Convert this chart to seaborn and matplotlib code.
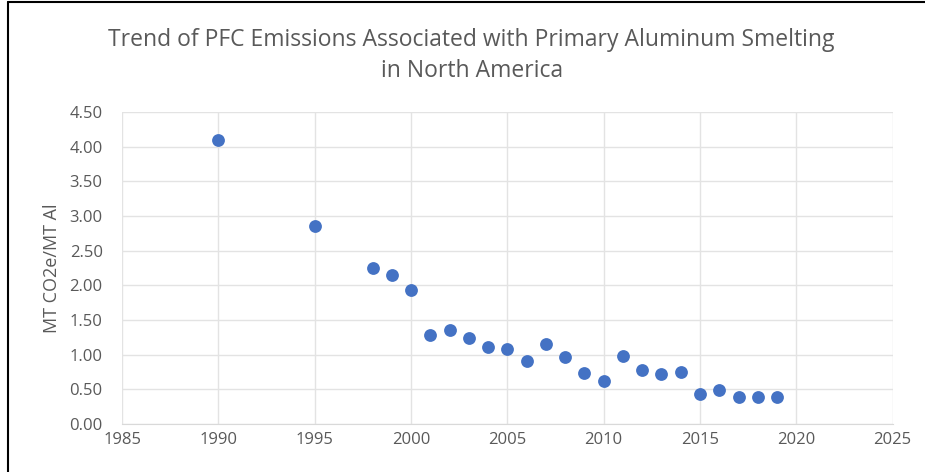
import numpy as np
import pandas as pd
import seaborn as sns
import matplotlib.pyplot as plt
from matplotlib.lines import Line2D

# data
years = [1990, 1995, 1998, 1999, 2000, 2001, 2002, 2003, 2004, 2005, 2006, 2007,
         2008, 2009, 2010, 2011, 2012, 2013, 2014, 2015, 2016, 2017, 2018, 2019]
emissions = [4.10, 2.86, 2.25, 2.14, 1.93, 1.28, 1.36, 1.24, 1.11, 1.08, 0.91, 1.15,
             0.97, 0.73, 0.62, 0.98, 0.78, 0.72, 0.75, 0.43, 0.49, 0.39, 0.39, 0.39]
x_ticks = [1985, 1990, 1995, 2000, 2005, 2010, 2015, 2020, 2025]
y_ticks = [0.0, 0.5, 1.0, 1.5, 2.0, 2.5, 3.0, 3.5, 4.0, 4.5]

df = pd.DataFrame({"Year": years, "Emissions": emissions})

sns.set_style("white")
plt.rcParams['font.family'] = ['Open Sans', 'DejaVu Sans']
text_color = "#595959"

fig = plt.figure(figsize=(9.25, 4.72), dpi=100)
ax = fig.add_axes([0.132, 0.102, 0.833, 0.661])

sns.scatterplot(data=df, x="Year", y="Emissions", ax=ax, color="#4472C4",
                s=85, edgecolor="#4472C4", linewidth=0, zorder=3)

ax.set_xlim(1985, 2025)
ax.set_ylim(0, 4.5)
ax.set_xticks(x_ticks)
ax.set_yticks(y_ticks)
ax.set_yticklabels([f"{v:.2f}" for v in y_ticks])
ax.grid(True, color="#E3E3E3", linewidth=1)
for side in ["top", "right", "left"]:
    ax.spines[side].set_visible(False)
ax.spines["bottom"].set_color("#D9D9D9")
ax.tick_params(axis="both", colors=text_color, labelsize=12, length=0, pad=6)
ax.tick_params(axis="y", pad=14)

ax.set_xlabel("")
ax.set_ylabel("MT CO2e/MT Al", color=text_color, fontsize=13, labelpad=6)

fig.suptitle("Trend of PFC Emissions Associated with Primary Aluminum Smelting\nin North America",
             x=0.51, y=0.94, fontsize=16.5, color=text_color, linespacing=1.35)

# frame edges visible at the left and top of the reference
fig.add_artist(Line2D([0.009, 0.009], [0, 0.995], color="black", linewidth=1.5))
fig.add_artist(Line2D([0.009, 1.0], [0.995, 0.995], color="black", linewidth=1.5))

fig.savefig("out.png", dpi=100)
